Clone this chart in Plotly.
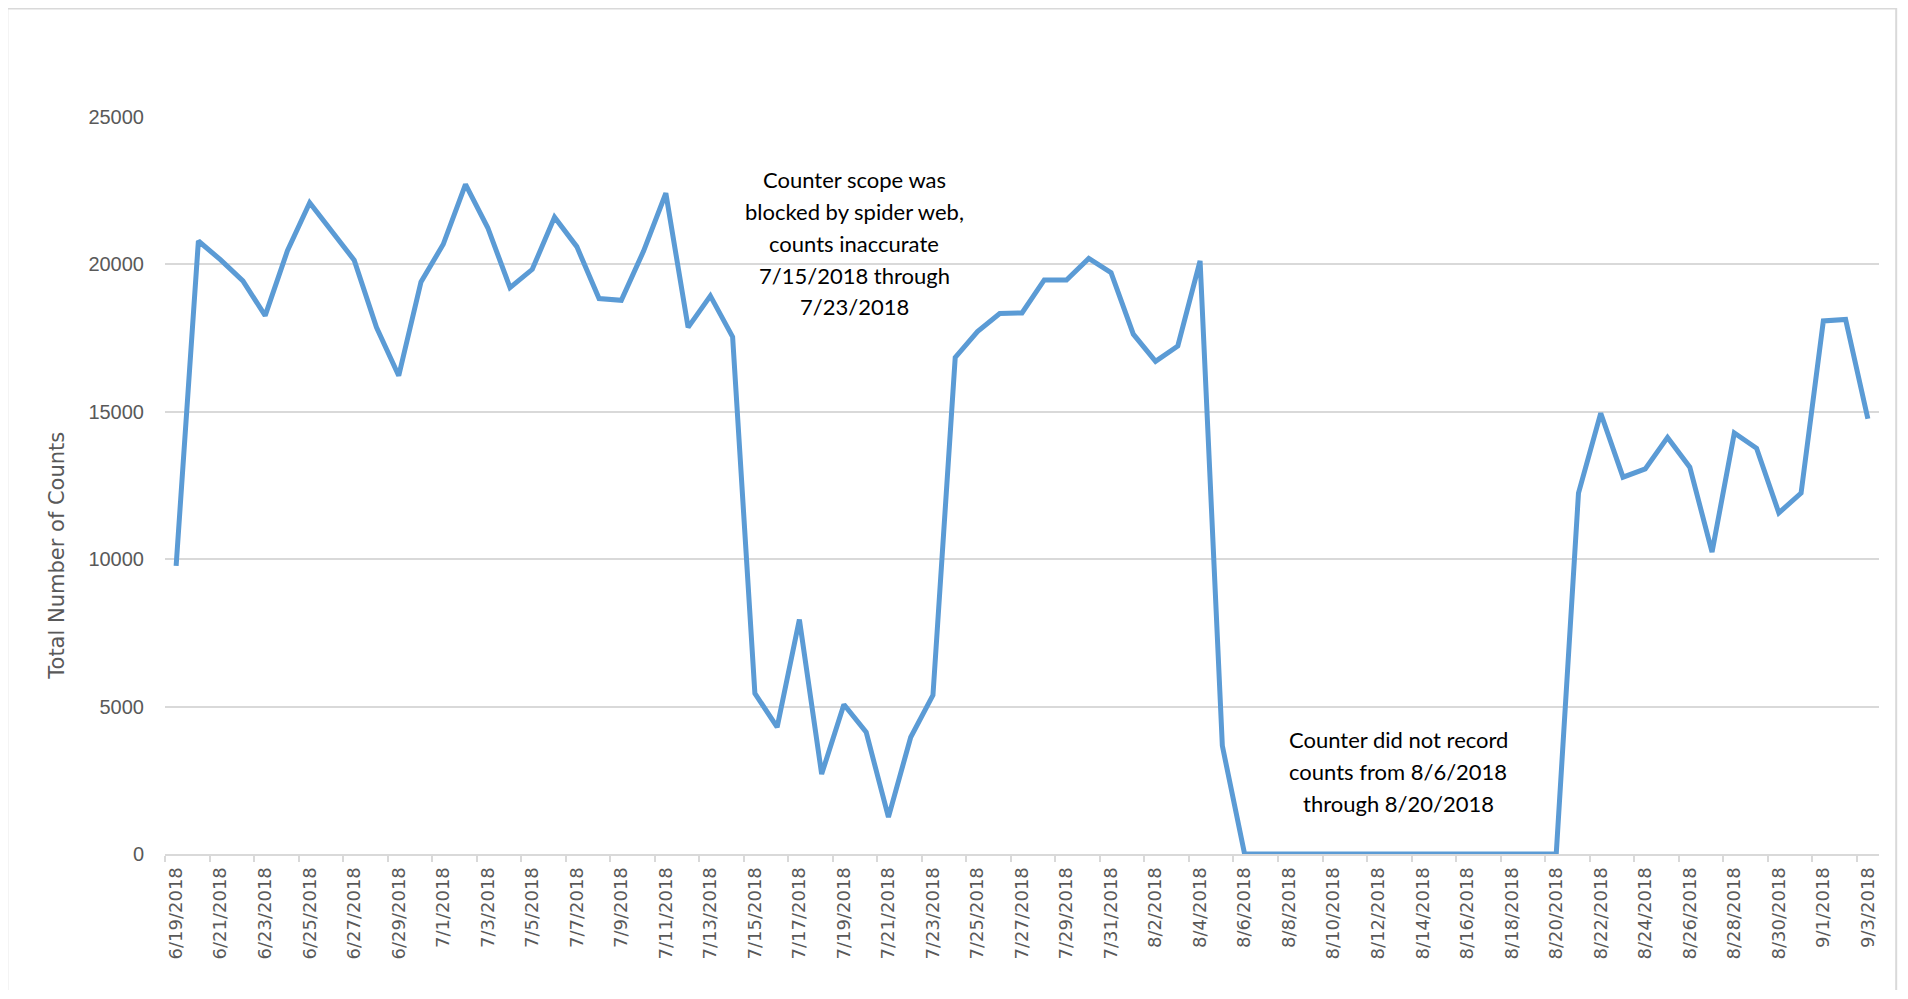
import plotly.graph_objects as go
import pandas as pd

# ---- data ----
dates = [
    "2018-06-19", "2018-06-20", "2018-06-21", "2018-06-22", "2018-06-23", "2018-06-24",
    "2018-06-25", "2018-06-26", "2018-06-27", "2018-06-28", "2018-06-29", "2018-06-30",
    "2018-07-01", "2018-07-02", "2018-07-03", "2018-07-04", "2018-07-05", "2018-07-06",
    "2018-07-07", "2018-07-08", "2018-07-09", "2018-07-10", "2018-07-11", "2018-07-12",
    "2018-07-13", "2018-07-14", "2018-07-15", "2018-07-16", "2018-07-17", "2018-07-18",
    "2018-07-19", "2018-07-20", "2018-07-21", "2018-07-22", "2018-07-23", "2018-07-24",
    "2018-07-25", "2018-07-26", "2018-07-27", "2018-07-28", "2018-07-29", "2018-07-30",
    "2018-07-31", "2018-08-01", "2018-08-02", "2018-08-03", "2018-08-04", "2018-08-05",
    "2018-08-06", "2018-08-07", "2018-08-08", "2018-08-09", "2018-08-10", "2018-08-11",
    "2018-08-12", "2018-08-13", "2018-08-14", "2018-08-15", "2018-08-16", "2018-08-17",
    "2018-08-18", "2018-08-19", "2018-08-20", "2018-08-21", "2018-08-22", "2018-08-23",
    "2018-08-24", "2018-08-25", "2018-08-26", "2018-08-27", "2018-08-28", "2018-08-29",
    "2018-08-30", "2018-08-31", "2018-09-01", "2018-09-02", "2018-09-03",
]

counts = [
    9770, 20790, 20150, 19440, 18260, 20460, 22090, 21100, 20140, 17860, 16220, 19400,
    20680, 22710, 21240, 19210, 19830, 21600, 20600, 18840, 18780, 20450, 22410, 17860,
    18930, 17540, 5450, 4300, 7950, 2710, 5070, 4130, 1250, 3960, 5390, 16840,
    17720, 18330, 18350, 19470, 19470, 20200, 19720, 17630, 16710, 17230, 20120, 3670,
    0, 0, 0, 0, 0, 0, 0, 0, 0, 0, 0, 0, 0, 0, 0,
    12240, 14950, 12780, 13060, 14130, 13120, 10240, 14280, 13760, 11570, 12240,
    18080, 18130, 14760,
]

y_ticks = [0, 5000, 10000, 15000, 20000, 25000]
y_tick_text = ["0", "5000", "10000", "15000", "20000", "25000"]
y_title = "Total Number of Counts"
note1_lines = ["Counter scope was", "blocked by spider web,", "counts inaccurate",
               "7/15/2018 through", "7/23/2018"]
note2_lines = ["Counter did not record", "counts from 8/6/2018", "through 8/20/2018"]

# ---- layout geometry (window pixels; page body has an 8px margin) ----
OFF = 8
W, H = 1892, 982
L, R = 164.5 - OFF, 1879.5 - OFF
T, B = 115.6 - OFF, 854.0 - OFF


def px_x(px):
    return (px - OFF - L) / (R - L)


def px_y(py):
    return (B - (py - OFF)) / (B - T)


dt = pd.to_datetime(dates)
tick_vals = [d.strftime("%Y-%m-%d") for d in dt[::2]]
tick_text = [f"{d.month}/{d.day}/{d.year}" for d in dt[::2]]
half = pd.Timedelta(hours=12)
minor_vals = [(d - half).strftime("%Y-%m-%d %H:%M") for d in dt[::2]]
x_range = [(dt[0] - half).strftime("%Y-%m-%d %H:%M"),
           (dt[-1] + half).strftime("%Y-%m-%d %H:%M")]

GRAY = "#d9d9d9"
TXT = "#595959"

fig = go.Figure(
    go.Scatter(
        x=dates, y=counts, mode="lines",
        line=dict(color="#5B9BD5", width=5),
        hoverinfo="skip", showlegend=False,
    )
)

annotations = []
for i, line in enumerate(note1_lines):
    annotations.append(dict(
        text=line, xref="paper", yref="paper",
        x=px_x(854.2), y=px_y(179 + 31.9 * i),
        xanchor="center", yanchor="middle", showarrow=False,
        font=dict(family="Lato", size=22, color="#000000"),
    ))
for i, line in enumerate(note2_lines):
    annotations.append(dict(
        text=line, xref="paper", yref="paper",
        x=px_x(1398.5), y=px_y(739.3 + 32.0 * i),
        xanchor="center", yanchor="middle", showarrow=False,
        font=dict(family="Lato", size=22, color="#000000"),
    ))
annotations.append(dict(
    text=y_title, xref="paper", yref="paper",
    x=px_x(57), y=px_y(556), textangle=-90,
    xanchor="center", yanchor="middle", showarrow=False,
    font=dict(family="DejaVu Sans", size=21, color=TXT),
))

fig.update_layout(
    width=W, height=H,
    margin=dict(l=L, r=W - R, t=T, b=H - B, pad=0),
    paper_bgcolor="white", plot_bgcolor="white",
    annotations=annotations,
    shapes=[dict(
        type="rect", xref="paper", yref="paper",
        x0=px_x(6.7), x1=px_x(1896.7), y0=px_y(1010), y1=px_y(8),
        line=dict(color=GRAY, width=2), fillcolor="rgba(0,0,0,0)", layer="below",
    )],
    xaxis=dict(
        type="date", range=x_range,
        tickmode="array", tickvals=tick_vals, ticktext=tick_text,
        tickangle=-90, ticks="", showgrid=False,
        showline=True, linecolor=GRAY, linewidth=2,
        tickfont=dict(family="DejaVu Sans", size=18, color=TXT),
        ticklabelstandoff=4,
        minor=dict(tickmode="array", tickvals=minor_vals, ticks="outside",
                   ticklen=6, tickwidth=2, tickcolor=GRAY, showgrid=False),
        fixedrange=True,
    ),
    yaxis=dict(
        range=[0, 25030], tickmode="array", tickvals=y_ticks, ticktext=y_tick_text,
        ticks="", showgrid=True, gridcolor=GRAY, gridwidth=2,
        zeroline=False, showline=False,
        tickfont=dict(family="Liberation Sans", size=20, color=TXT),
        ticklabelstandoff=20,
        fixedrange=True,
    ),
)

fig.write_html("out.html")
